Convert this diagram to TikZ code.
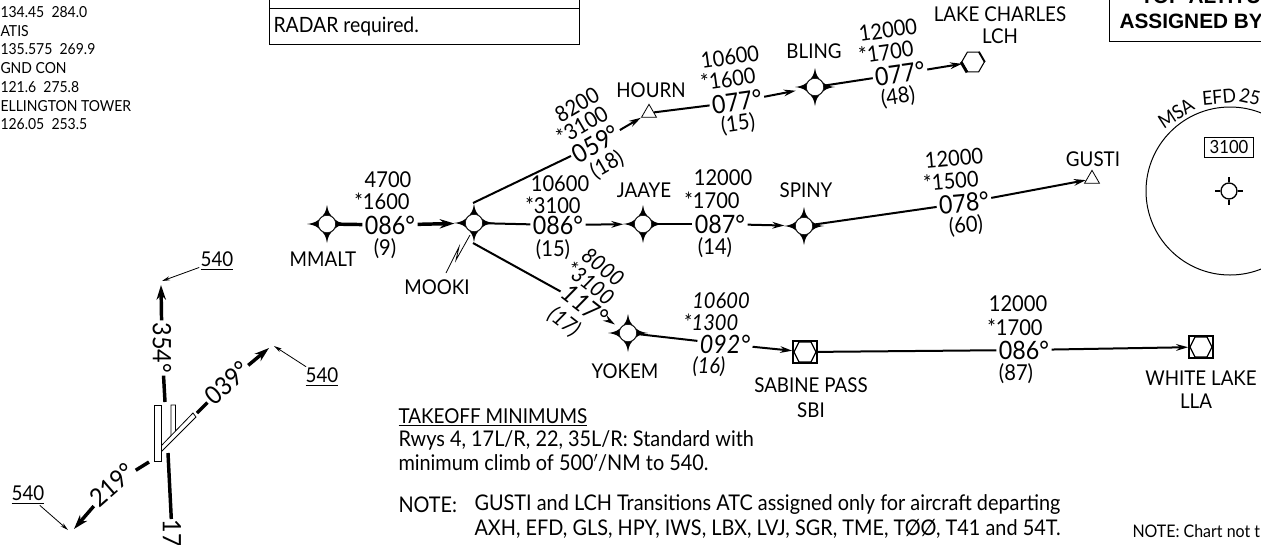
\documentclass[tikz,border=0pt]{standalone}
\usepackage{fontspec}
\setmainfont{Lato}[FakeStretch=0.92]
\newfontfamily\boxfont{Liberation Sans}
\usetikzlibrary{arrows.meta,shapes.geometric}

\tikzset{every picture/.style={line width=0.75pt}}
\tikzset{
  lbl/.style={inner sep=0.75pt,font=\fontsize{15.3}{17}\selectfont},
  alt/.style={inner sep=0.75pt,font=\fontsize{16.4}{18}\selectfont},
  hdg/.style={inner sep=1.5pt,font=\fontsize{19}{21}\selectfont},
  altit/.style={inner sep=0.75pt,font=\fontsize{16.4}{18}\selectfont\itshape},
  hdgit/.style={inner sep=1.5pt,font=\fontsize{19}{21}\selectfont\itshape},
  freq/.style={inner sep=0pt,anchor=west,font=\fontsize{11.4}{13}\selectfont},
  body/.style={inner sep=0pt,anchor=west,font=\fontsize{16.2}{18}\selectfont},
  boxtxt/.style={inner sep=0pt,anchor=west,font=\boxfont\fontsize{15.6}{17}\selectfont\bfseries},
  route/.style={line width=1.5pt},
  routearr/.style={line width=1.5pt,-{Stealth[length=9pt,width=5pt]}},
  heavy/.style={line width=2.6pt},
  heavyarr/.style={line width=2.6pt,-{Stealth[length=11pt,width=7pt]}},
  leader/.style={line width=0.6pt,-{Stealth[length=6pt,width=3pt]}},
  rwy/.style={draw,fill=white,line width=0.6pt},
  tri/.style={draw,line width=0.6pt,regular polygon,regular polygon sides=3,inner sep=0pt,minimum size=13pt},
}
\newcommand{\fixpt}[2]{%
  \begin{scope}[shift={(#2)}]
  \fill (0,-19) .. controls (1,-12) and (3,-9) .. (6.5,-6.5) .. controls (9,-3) and (12,-1) .. (20,0)
    .. controls (12,1) and (9,3) .. (6.5,6.5) .. controls (3,9) and (1,12) .. (0,19)
    .. controls (-1,12) and (-3,9) .. (-6.5,6.5) .. controls (-9,3) and (-12,1) .. (-20,0)
    .. controls (-12,-1) and (-9,-3) .. (-6.5,-6.5) .. controls (-3,-9) and (-1,-12) .. (0,-19) -- cycle;
  \node [circle,draw,fill=white,line width=0.4pt,inner sep=0pt,minimum size=13pt] (#1) at (0,0) {};
  \end{scope}
}
\newcommand{\vorsym}[2]{%
  \node [draw,fill=white,line width=1.7pt,inner sep=0pt,minimum width=17.5pt,minimum height=16pt] (#1) at (#2) {};
  \begin{scope}[shift={(#2)}]
  \draw [line width=0.9pt] (-11,0) -- (-6,-10) -- (6,-10) -- (11,0) -- (6,10) -- (-6,10) -- cycle;
  \end{scope}
}

\begin{document}
\begin{tikzpicture}[x=0.75pt,y=0.75pt,yscale=-1,xscale=1]
\useasboundingbox (0,0) rectangle (1261,544);

% Text Node
\draw (0,12) node (frqa) [freq] {134.45\ \ 284.0};
\draw (0,31) node (frqb) [freq] {ATIS};
\draw (0,49) node (frqc) [freq] {135.575\ \ 269.9};
\draw (0,68) node (frqd) [freq] {GND CON};
\draw (0,87) node (frqe) [freq] {121.6\ \ 275.8};
\draw (0,106) node (frqf) [freq] {ELLINGTON TOWER};
\draw (0,124) node (frqg) [freq] {126.05\ \ 253.5};

%Shape: Rectangle
\draw (269,-2) -- (269,44) -- (579,44) -- (579,-2) (269,8) -- (579,8);
\draw (1109,-2) -- (1109,41) -- (1263,41);
% Text Node
\draw (273,27) node (radar) [body,font=\fontsize{15.8}{18}\selectfont] {RADAR required.};
\draw (1140,-4) node (topalt) [boxtxt] {TOP ALTITU};
\draw (1119,21) node (assigned) [boxtxt] {ASSIGNED BY};

%Shape: Circle
\draw (1230,191) circle [radius=84];
% Text Node
\draw (1176,113) node (msa) [lbl,rotate=33,font=\fontsize{14.5}{16}\selectfont] {MSA};
\draw (1219,97) node (efd) [lbl,rotate=5,font=\fontsize{14.5}{16}\selectfont] {EFD};
\draw (1250,97) node (msarad) [lbl,rotate=-12,font=\fontsize{14.5}{16}\selectfont] {25};
\draw (1229,147) node (msaalt) [draw,line width=0.6pt,inner xsep=4pt,inner ysep=2.5pt,font=\fontsize{13.6}{15}\selectfont] {3100};
%Shape: Target
\draw (1229,191) node (msactr) [circle,draw,line width=1pt,inner sep=0pt,minimum size=12pt] {};
\draw [line width=1pt] (msactr.north) -- +(0,-5) (msactr.south) -- +(0,5) (msactr.west) -- +(-5,0) (msactr.east) -- +(5,0);

%Shape: Waypoints
\fixpt{mmalt}{327,224}
\fixpt{mooki}{474,223}
\fixpt{jaaye}{643,224}
\fixpt{spiny}{804,226}
\fixpt{bling}{815,87}
\fixpt{yokem}{628,333}
\draw (649,113) node (hourn) [tri] {};
\draw (1092,179) node (gusti) [tri] {};
\draw (973,62) node (lch) [draw,line width=0.8pt,regular polygon,regular polygon sides=6,inner sep=0pt,minimum size=17pt] {};
\draw [line width=2.2pt] (lch.corner 3) -- (lch.corner 4);
\draw [line width=1.2pt] (lch.corner 1) -- (lch.corner 6);
\vorsym{sbi}{805,352}
\vorsym{lla}{1201,347}
\coordinate (mookin) at (473,203);
\coordinate (mookis) at (473,243);

% Text Node
\draw (323,259) node (nmmalt) [lbl] {MMALT};
\draw (437,287) node (nmooki) [lbl] {MOOKI};
\draw (651,90) node (nhourn) [lbl] {HOURN};
\draw (814,51) node (nbling) [lbl] {BLING};
\draw (1000,14) node (nlch) [lbl] {LAKE CHARLES};
\draw (1000,36) node (nlchb) [lbl] {LCH};
\draw (644,190) node (njaaye) [lbl] {JAAYE};
\draw (806,190) node (nspiny) [lbl] {SPINY};
\draw (1093,159) node (ngusti) [lbl] {GUSTI};
\draw (625,371) node (nyokem) [lbl] {YOKEM};
\draw (811,385) node (nsbi) [lbl] {SABINE PASS};
\draw (811,410) node (nsbib) [lbl] {SBI};
\draw (1201,378) node (nlla) [lbl] {WHITE LAKE};
\draw (1196,401) node (nllab) [lbl] {LLA};

% Text Node
\draw (388,180) node (altaa) [alt] {4700};
\draw (382,201) node (altab) [alt] {*1600};
\draw (390,225) node (hdga) [hdg] {086°};
\draw (385,249) node (dista) [alt] {(9)};

\draw (577,105) node (altba) [alt,rotate=30] {8200};
\draw (582,125) node (altbb) [alt,rotate=30] {*3100};
\draw (596,144) node (hdgb) [hdg,rotate=30] {059°};
\draw (607,165) node (distb) [alt,rotate=30] {(18)};

\draw (730,57) node (altca) [alt,rotate=8] {10600};
\draw (728,79) node (altcb) [alt,rotate=8] {*1600};
\draw (737,102) node (hdgc) [hdg,rotate=8] {077°};
\draw (738,124) node (distc) [alt,rotate=8] {(15)};

\draw (888,30) node (altda) [alt,rotate=8] {12000};
\draw (886,52) node (altdb) [alt,rotate=8] {*1700};
\draw (900,74) node (hdgd) [hdg,rotate=8] {077°};
\draw (898,97) node (distd) [alt,rotate=8] {(48)};

\draw (560,184) node (altea) [alt] {10600};
\draw (553,205) node (alteb) [alt] {*3100};
\draw (558,225) node (hdge) [hdg] {086°};
\draw (553,250) node (diste) [alt] {(15)};

\draw (723,178) node (altfa) [alt] {12000};
\draw (712,200) node (altfb) [alt] {*1700};
\draw (720,224) node (hdgf) [hdg] {087°};
\draw (715,248) node (distf) [alt] {(14)};

\draw (954,158) node (altga) [alt,rotate=5] {12000};
\draw (951,181) node (altgb) [alt,rotate=5] {*1500};
\draw (964,203) node (hdgg) [hdg,rotate=5] {078°};
\draw (966,226) node (distg) [alt,rotate=5] {(60)};

\draw (603,267) node (altha) [altit,rotate=-38] {8000};
\draw (590,283) node (althb) [altit,rotate=-38] {*3100};
\draw (585,305) node (hdgh) [hdgit,rotate=-38] {117°};
\draw (564,322) node (disth) [altit,rotate=-38] {(17)};

\draw (721,301) node (altia) [altit] {10600};
\draw (711,322) node (altib) [altit] {*1300};
\draw (725,344) node (hdgi) [hdgit] {092°};
\draw (709,367) node (disti) [altit] {(16)};

\draw (1018,304) node (altja) [alt] {12000};
\draw (1015,327) node (altjb) [alt] {*1700};
\draw (1024,350) node (hdgj) [hdg] {086°};
\draw (1016,374) node (distj) [alt] {(87)};

%Straight Lines
\draw [heavy] (mmalt) -- (hdga);
\draw [heavyarr,shorten >=8pt] (hdga) -- (mooki);
\draw [route] (mookin) -- (hdgb);
\draw [routearr] (hdgb) -- (hourn);
\draw [route] (hourn) -- (hdgc);
\draw [routearr,shorten >=8pt] (hdgc) -- (bling);
\draw [route] (bling) -- (hdgd);
\draw [routearr] (hdgd) -- (lch);
\draw [route] (mooki) -- (hdge);
\draw [routearr,shorten >=8pt] (hdge) -- (jaaye);
\draw [route] (jaaye) -- (hdgf);
\draw [routearr,shorten >=8pt] (hdgf) -- (spiny);
\draw [route] (spiny) -- (hdgg);
\draw [routearr] (hdgg) -- (gusti);
\draw [route] (mookis) -- (hdgh);
\draw [routearr,shorten >=5pt] (hdgh) -- (yokem);
\draw [route] (yokem) -- (hdgi);
\draw [routearr] (hdgi) -- (sbi);
\draw [route] (sbi) -- (hdgj);
\draw [routearr] (hdgj) -- (lla);
%Shape: Lightning
\draw [line width=0.6pt] (nmooki) ++(9,-14) -- (459,247) -- (456,260) -- (470,235);

%Shape: Runways
\coordinate (rwytop) at (165,402);
\coordinate (rwyne) at (197,413);
\coordinate (rwysw) at (149,462);
\coordinate (rwys) at (168,453);
\coordinate (tipn) at (161,285);
\coordinate (tipne) at (269,348);
\coordinate (tipsw) at (74,529);
\coordinate (ldrn) at (162,281);
\coordinate (ldrne) at (274,346);
\coordinate (ldrsw) at (68,530);
\draw [rwy] (171,405) -- (175.5,405) -- (175.5,432) -- (171,437) -- cycle;
\draw [rwy] (161,446) -- (193,413) -- (196,417) -- (161,452) -- cycle;
\draw [rwy] (154.5,405.5) -- (161,405.5) -- (161,461.5) -- (154.5,461.5) -- cycle;

% Text Node
\draw (162,348) node (hdgn) [hdg,rotate=-90] {354°};
\draw (227,383) node (hdgne) [hdg,rotate=41] {039°};
\draw (112,485) node (hdgsw) [hdg,rotate=41] {219°};
\draw (172,519) node (hdgs) [hdg,inner sep=0pt,rotate=-90,anchor=west] {17};
\draw (217,261) node (mina) [lbl] {\underline{540}};
\draw (322,377) node (minb) [lbl] {\underline{540}};
\draw (28,495) node (minc) [lbl] {\underline{540}};

%Straight Lines
\draw [heavy] (rwytop) -- (hdgn);
\draw [heavyarr] (hdgn) -- (tipn);
\draw [heavy] (rwyne) -- (hdgne);
\draw [heavyarr] (hdgne) -- (tipne);
\draw [heavy] (rwysw) -- (hdgsw);
\draw [heavyarr] (hdgsw) -- (tipsw);
\draw [heavy] (rwys) -- (hdgs);
\draw [leader] (mina) -- (ldrn);
\draw [leader] (minb) -- (ldrne);
\draw [leader] (minc) -- (ldrsw);

% Text Node
\draw (398,417) node (takeoff) [body,font=\fontsize{15.4}{17}\selectfont] {\underline{TAKEOFF MINIMUMS}};
\draw (398,440) node (rwys) [body] {Rwys 4, 17L/R, 22, 35L/R: Standard with};
\draw (398,463) node (climb) [body] {minimum climb of 500$'$/NM to 540.};
\draw (398,505) node (notea) [body] {NOTE:};
\draw (474,505) node (noteb) [body] {GUSTI and LCH Transitions ATC assigned only for aircraft departing};
\draw (474,529) node (notec) [body] {AXH, EFD, GLS, HPY, IWS, LBX, LVJ, SGR, TME, TØØ, T41 and 54T.};
\draw (1132,531) node (noted) [body,font=\fontsize{13}{15}\selectfont] {NOTE: Chart not t};

\end{tikzpicture}
\end{document}
